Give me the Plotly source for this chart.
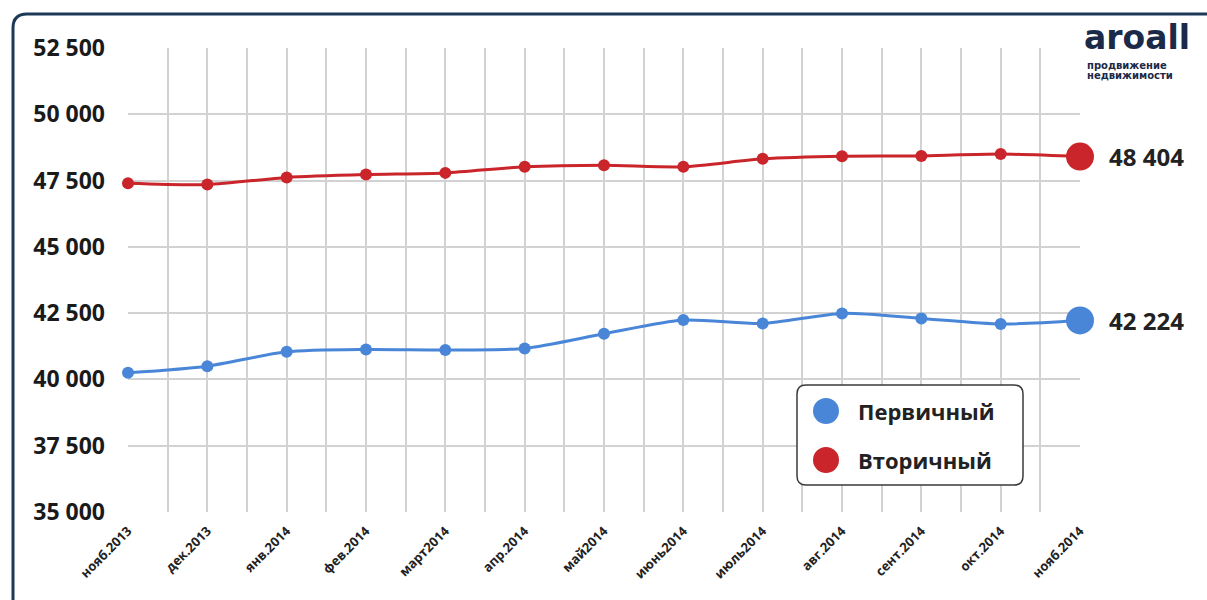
import plotly.graph_objects as go

months = ["нояб.2013", "дек.2013", "янв.2014", "фев.2014", "март2014", "апр.2014",
          "май2014", "июнь2014", "июль2014", "авг.2014", "сент.2014", "окт.2014", "нояб.2014"]
primary = [40250, 40500, 41040, 41130, 41110, 41170, 41720, 42240, 42110, 42490, 42300, 42090, 42224]
secondary = [47400, 47350, 47620, 47730, 47790, 48020, 48080, 48020, 48320, 48420, 48430, 48500, 48404]
y_ticks = [35000, 37500, 40000, 42500, 45000, 47500, 50000, 52500]
y_labels = ["35 000", "37 500", "40 000", "42 500", "45 000", "47 500", "50 000", "52 500"]
series_names = ["Первичный", "Вторичный"]

W, H = 1207, 600
L, R, T, B = 128, 127, 48, 88
PW, PH = W - L - R, H - T - B

def px(x):
    return (x - L) / PW

def py(y):
    return (H - B - y) / PH

BLUE = "#4a86d8"
RED = "#c9252b"
FONT = "Open Sans"

xs = list(range(len(months)))
fig = go.Figure()
for vals, col, name in [(primary, BLUE, series_names[0]), (secondary, RED, series_names[1])]:
    sizes = [12] * (len(vals) - 1) + [28]
    fig.add_trace(go.Scatter(
        x=xs, y=vals, mode="lines+markers", name=name,
        line=dict(color=col, width=3, shape="spline", smoothing=0.7),
        marker=dict(color=col, size=sizes, opacity=1, line=dict(width=0)),
        opacity=1, showlegend=False, cliponaxis=False,
    ))
    fig.add_annotation(x=xs[-1], y=vals[-1], xref="x", yref="y",
                       text=f"{vals[-1]:,}".replace(",", " "), showarrow=False,
                       xanchor="left", xshift=27,
                       font=dict(family=FONT, size=24, color="#222", weight=700))

shapes = []
# outer rounded frame
r = 14
x0, y0 = 13, 14
shapes.append(dict(
    type="path", xref="paper", yref="paper",
    path=(f"M {px(x0)},{py(H + 10)} L {px(x0)},{py(y0 + r)} "
          f"Q {px(x0)},{py(y0)} {px(x0 + r)},{py(y0)} L {px(W + 10)},{py(y0)}"),
    line=dict(color="#1c3a58", width=3), layer="below"))

# legend box
lx0, ly0, lx1, ly1, rr = 797, 385, 1023, 485, 9
shapes.append(dict(
    type="path", xref="paper", yref="paper",
    path=(f"M {px(lx0 + rr)},{py(ly0)} L {px(lx1 - rr)},{py(ly0)} "
          f"Q {px(lx1)},{py(ly0)} {px(lx1)},{py(ly0 + rr)} L {px(lx1)},{py(ly1 - rr)} "
          f"Q {px(lx1)},{py(ly1)} {px(lx1 - rr)},{py(ly1)} L {px(lx0 + rr)},{py(ly1)} "
          f"Q {px(lx0)},{py(ly1)} {px(lx0)},{py(ly1 - rr)} L {px(lx0)},{py(ly0 + rr)} "
          f"Q {px(lx0)},{py(ly0)} {px(lx0 + rr)},{py(ly0)} Z"),
    line=dict(color="#3a3a3a", width=1.5), fillcolor="white"))
for cy, col, name in [(411, BLUE, series_names[0]), (460, RED, series_names[1])]:
    cr = 13
    shapes.append(dict(type="circle", xref="paper", yref="paper",
                       x0=px(826 - cr), x1=px(826 + cr), y0=py(cy + cr), y1=py(cy - cr),
                       fillcolor=col, line=dict(width=0)))
    fig.add_annotation(x=px(856), y=py(cy), xref="paper", yref="paper", text=name,
                       showarrow=False, xanchor="left", yanchor="middle",
                       font=dict(family=FONT, size=22, color="#222", weight=700))

# logo
fig.add_annotation(x=px(1082), y=py(38), xref="paper", yref="paper", text="aroall",
                   showarrow=False, xanchor="left", yanchor="middle",
                   font=dict(family="DejaVu Sans", size=33, color="#1b2a48", weight=700))
fig.add_annotation(x=px(1085), y=py(65), xref="paper", yref="paper", text="продвижение",
                   showarrow=False, xanchor="left", yanchor="middle",
                   font=dict(family="DejaVu Sans", size=10, color="#1b2a48", weight=700))
fig.add_annotation(x=px(1085), y=py(76), xref="paper", yref="paper", text="недвижимости",
                   showarrow=False, xanchor="left", yanchor="middle",
                   font=dict(family="DejaVu Sans", size=10, color="#1b2a48", weight=700))

fig.update_layout(
    width=W, height=H, margin=dict(l=L, r=R, t=T, b=B),
    paper_bgcolor="white", plot_bgcolor="white",
    shapes=shapes, showlegend=False,
    xaxis=dict(range=[0, 12], tickvals=xs, ticktext=months, tickangle=-45,
               showgrid=True, gridcolor="#d2d2d2", gridwidth=1.5,
               minor=dict(dtick=0.5, showgrid=True, gridcolor="#d2d2d2", gridwidth=1.5),
               zeroline=False, showline=False, ticks="", ticklabelstandoff=8,
               tickfont=dict(family=FONT, size=13, color="#222", weight=700)),
    yaxis=dict(range=[35000, 52500], tickvals=y_ticks, ticktext=y_labels,
               showgrid=True, gridcolor="#d2d2d2", gridwidth=1.5,
               zeroline=False, showline=False, ticks="", ticklabelstandoff=22,
               tickfont=dict(family=FONT, size=23, color="#1a1a1a", weight=700)),
)
fig.write_html("out.html")
